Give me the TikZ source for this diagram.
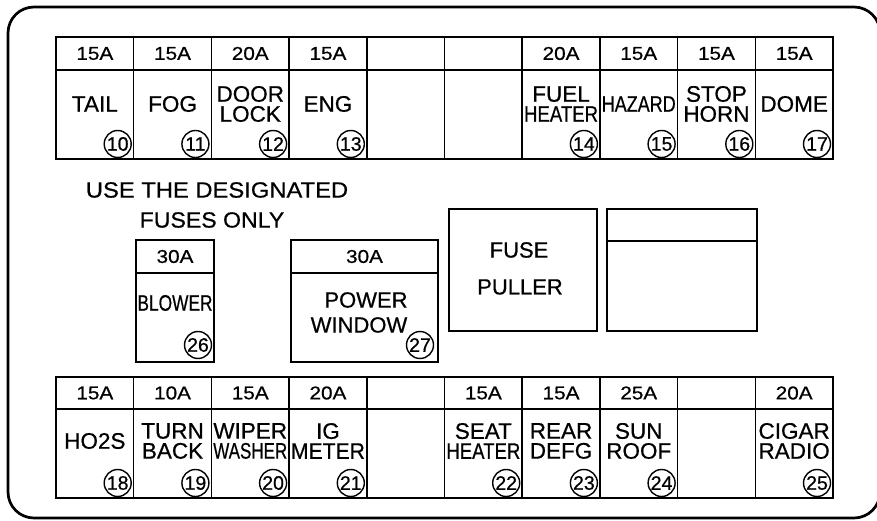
\documentclass[tikz,border=0pt]{standalone}
\usepackage{fontspec}
\setmainfont[FakeBold=0.6]{Liberation Sans}
\usepackage{graphicx}
\newsavebox\lblbox
\newcommand\fitline[2][74pt]{\sbox\lblbox{#2}\ifdim\wd\lblbox>#1\relax\resizebox{#1}{\height}{\usebox\lblbox}\else\usebox\lblbox\fi}
\newcommand\ampt[1]{\scalebox{1.12}[1]{#1}}
\tikzset{
  box/.style={draw, line width=1.5pt},
  frame/.style={draw, line width=2.7pt, rounded corners=26pt},
  amp/.style={font=\fontsize{18.5}{18.5}\selectfont, inner sep=0pt},
  lbl/.style={font=\fontsize{22.5}{20}\selectfont, align=center, inner sep=0pt},
  bigtxt/.style={font=\fontsize{22}{22}\selectfont, inner sep=0pt},
  num/.style={draw, circle, line width=1.4pt, minimum size=27pt, inner sep=0pt, fill=white,
              font=\fontsize{19.5}{19.5}\selectfont},
}
\begin{document}
\begin{tikzpicture}[x=1pt, y=-1pt]
\useasboundingbox (0,0) rectangle (877,521);
\clip (0,0) rectangle (877,521);
\fill[white] (0,0) rectangle (877,521);
% outer frame
\draw[frame] (8,7) rectangle (880,518);

% ---------- top row grid ----------
\draw[box] (56,37) rectangle (833,159);
\draw[box] (56,70) -- (833,70);
\foreach \k in {1,...,9} {
  \pgfmathsetmacro\vx{56+77.7*\k}
  \draw[box] (\vx,37) -- (\vx,159);
}
% ---------- bottom row grid ----------
\draw[box] (56,377) rectangle (833,498);
\draw[box] (56,409) -- (833,409);
\foreach \k in {1,...,9} {
  \pgfmathsetmacro\vx{56+77.7*\k}
  \draw[box] (\vx,377) -- (\vx,498);
}

% ---------- top row fuses ----------
\foreach \i/\a/\lab/\n in {
  1/15A/{\fitline{TAIL}}/10,
  2/15A/{\fitline{FOG}}/11,
  3/20A/{\fitline{DOOR}\\\fitline{LOCK}}/12,
  4/15A/{\fitline{ENG}}/13,
  7/20A/{\fitline{FUEL}\\\fitline{HEATER}}/14,
  8/15A/{\fitline{HAZARD}}/15,
  9/15A/{\fitline{STOP}\\\fitline{HORN}}/16,
  10/15A/{\fitline{DOME}}/17} {
  \pgfmathsetmacro\cx{56+77.7*(\i-0.5)}
  \pgfmathsetmacro\rx{56+77.7*\i-16}
  \node[amp] (amp\n) at (\cx,53.5) {\ampt{\a}};
  \node[lbl] (lbl\n) at (\cx,104) {\lab};
  \node[num] (num\n) at (\rx,144) {\n};
}

% ---------- bottom row fuses ----------
\foreach \i/\a/\lab/\n in {
  1/15A/{\fitline{HO2S}}/18,
  2/10A/{\fitline{TURN}\\\fitline{BACK}}/19,
  3/15A/{\fitline{WIPER}\\\fitline{WASHER}}/20,
  4/20A/{\fitline{IG}\\\fitline{METER}}/21,
  6/15A/{\fitline{SEAT}\\\fitline{HEATER}}/22,
  7/15A/{\fitline{REAR}\\\fitline{DEFG}}/23,
  8/25A/{\fitline{SUN}\\\fitline{ROOF}}/24,
  10/20A/{\fitline{CIGAR}\\\fitline{RADIO}}/25} {
  \pgfmathsetmacro\cx{56+77.7*(\i-0.5)}
  \pgfmathsetmacro\rx{56+77.7*\i-16}
  \node[amp] (amp\n) at (\cx,393) {\ampt{\a}};
  \node[lbl] (lbl\n) at (\cx,441) {\lab};
  \node[num] (num\n) at (\rx,483) {\n};
}

% ---------- middle ----------
\node[bigtxt] (use) at (217,190) {\scalebox{1.08}[1]{USE THE DESIGNATED}};
\node[bigtxt] (only) at (212,220) {\scalebox{1.05}[1]{FUSES ONLY}};

% blower
\draw[box] (136,240) rectangle (214,362);
\draw[box] (136,273) -- (214,273);
\node[amp] (amp26) at (175,256.5) {\ampt{30A}};
\node[lbl] (lbl26) at (175,303) {\fitline[75pt]{BLOWER}};
\node[num] (num26) at (198,345) {26};

% power window
\draw[box] (291,240) rectangle (438,362);
\draw[box] (291,273) -- (438,273);
\node[amp] (amp27) at (364.5,256.5) {\ampt{30A}};
\node[bigtxt] (pw1) at (366,300) {POWER};
\node[bigtxt] (pw2) at (359,325) {WINDOW};
\node[num] (num27) at (420,345) {27};

% fuse puller
\draw[box] (449,209) rectangle (597,331);
\node[bigtxt] (fp1) at (519,250) {FUSE};
\node[bigtxt] (fp2) at (520,287) {PULLER};

% spare box
\draw[box] (607,209) rectangle (757,331);
\draw[box] (607,241) -- (757,241);
\end{tikzpicture}
\end{document}
